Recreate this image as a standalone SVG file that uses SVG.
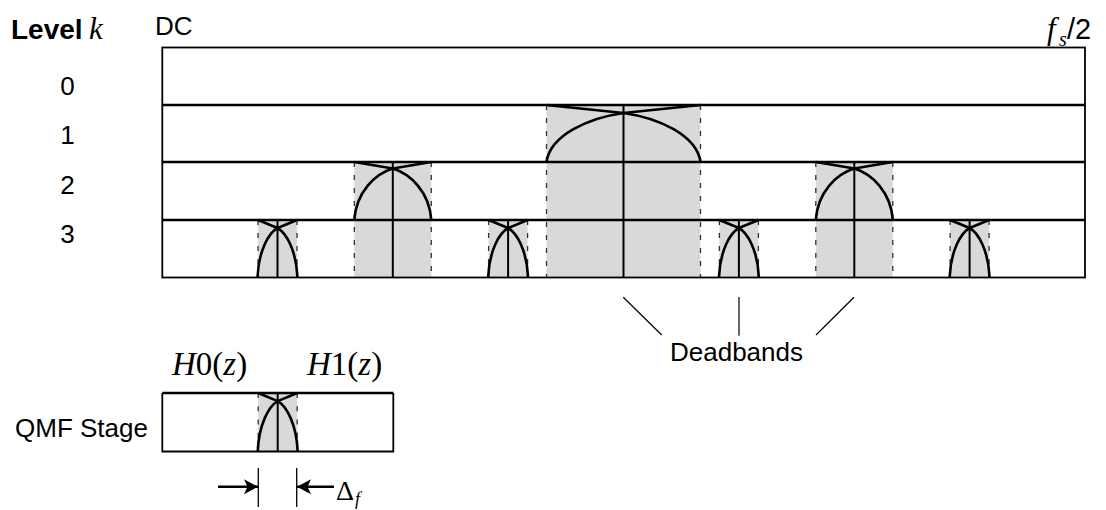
<svg xmlns="http://www.w3.org/2000/svg" xmlns:xlink="http://www.w3.org/1999/xlink" width="1106" height="510" viewBox="0 0 1106 510">
  <style>
    .sans { font-family: "Liberation Sans", Arial, sans-serif; fill: #000; }
    .serif { font-family: "Liberation Serif", "Times New Roman", serif; fill: #000; }
    .it { font-style: italic; }
    .band { fill: #d9d9d9; stroke: none; }
    .edge { stroke: #333; stroke-width: 1.3; stroke-dasharray: 5 8; fill: none; }
    .mid { stroke: #000; stroke-width: 2; fill: none; }
    .resp { stroke: #000; stroke-width: 2.6; fill: none; stroke-linejoin: round; }
    .frame { stroke: #000; stroke-width: 1.8; fill: none; }
    .level { stroke: #000; stroke-width: 2.7; fill: none; }
    .lead { stroke: #000; stroke-width: 1.2; fill: none; }
    .dim { stroke: #000; stroke-width: 2.6; fill: none; }
    .tick { stroke: #000; stroke-width: 1.3; fill: none; }
  </style>
  <defs>
    <!-- deadband between two half-band responses; origin = centre of the split on its level line -->
    <g id="db-l1">
      <rect class="band" x="-77" y="0" width="154" height="172.5"/>
      <path class="edge" d="M-77 0 V172.5 M77 0 V172.5"/>
      <path class="mid" d="M0 0 V172.5"/>
      <path class="resp" d="M-77 57 C-73.1 30 -34.7 12.9 0 8 L77 0"/>
      <path class="resp" d="M77 57 C73.1 30 34.7 12.9 0 8 L-77 0"/>
    </g>
    <g id="db-l2">
      <rect class="band" x="-38.5" y="0" width="77" height="115.5"/>
      <path class="edge" d="M-38.5 0 V115.5 M38.5 0 V115.5"/>
      <path class="mid" d="M0 0 V115.5"/>
      <path class="resp" d="M-38.5 58 C-36.6 29.7 -17.3 11.7 0 6.5 L38.5 0"/>
      <path class="resp" d="M38.5 58 C36.6 29.7 17.3 11.7 0 6.5 L-38.5 0"/>
    </g>
    <g id="db-l3">
      <rect class="band" x="-19.5" y="0" width="39" height="57.5"/>
      <path class="edge" d="M-19.5 0 V57.5 M19.5 0 V57.5"/>
      <path class="mid" d="M0 0 V57.5"/>
      <path class="resp" d="M-20 57.5 C-18.8 30.3 -8.8 13 0 8 L19.5 0"/>
      <path class="resp" d="M20 57.5 C18.8 30.3 8.8 13 0 8 L-19.5 0"/>
    </g>
    <marker id="head" markerUnits="userSpaceOnUse" markerWidth="16" markerHeight="18" refX="14" refY="9" orient="auto">
      <path d="M0 1.5 L14 9 L0 16.5 L3.5 9 Z" fill="#000"/>
    </marker>
  </defs>

  <!-- row labels -->
  <g id="labels">
    <text class="sans" x="11" y="39" font-size="28" font-weight="bold">Level</text>
    <text class="serif it" x="89" y="39" font-size="31">k</text>
    <text class="sans" x="155" y="35" font-size="26">DC</text>
    <text class="serif it" x="1047" y="39" font-size="31">f</text>
    <text class="serif it" x="1059" y="46" font-size="20">s</text>
    <text class="sans" x="1067" y="39" font-size="29">/2</text>
    <g class="sans" font-size="26" text-anchor="middle">
      <text x="67.5" y="95">0</text>
      <text x="67.5" y="144">1</text>
      <text x="67.5" y="194">2</text>
      <text x="67.5" y="243">3</text>
    </g>
  </g>

  <!-- level 1 split -->
  <g id="node-l1">
    <use xlink:href="#db-l1" transform="translate(623.5 105)"/>
  </g>
  <!-- level 2 splits -->
  <g id="node-l2-a">
    <use xlink:href="#db-l2" transform="translate(392.8 162)"/>
  </g>
  <g id="node-l2-b">
    <use xlink:href="#db-l2" transform="translate(854.3 162)"/>
  </g>
  <!-- level 3 splits -->
  <g id="node-l3-a">
    <use xlink:href="#db-l3" transform="translate(277.5 220)"/>
  </g>
  <g id="node-l3-b">
    <use xlink:href="#db-l3" transform="translate(508.1 220)"/>
  </g>
  <g id="node-l3-c">
    <use xlink:href="#db-l3" transform="translate(738.9 220)"/>
  </g>
  <g id="node-l3-d">
    <use xlink:href="#db-l3" transform="translate(969.6 220)"/>
  </g>

  <!-- frequency axis frame and level boundaries -->
  <g id="frame">
    <rect class="frame" x="162.3" y="47.5" width="922.7" height="230"/>
    <path class="level" d="M162.3 105 H1085 M162.3 162 H1085 M162.3 220 H1085"/>
  </g>

  <!-- single QMF stage -->
  <g id="qmf-stage">
    <use xlink:href="#db-l3" transform="translate(277.7 393) scale(1 1.017)"/>
    <path class="frame" d="M162.3 393 V451.5 H393.3 V393"/>
    <path class="level" d="M162.3 393 H393.3"/>
    <text class="sans" x="15" y="437" font-size="26">QMF Stage</text>
    <text class="serif" x="172" y="375" font-size="33"><tspan class="it">H</tspan>0(<tspan class="it">z</tspan>)</text>
    <text class="serif" x="307" y="375" font-size="33"><tspan class="it">H</tspan>1(<tspan class="it">z</tspan>)</text>
  </g>

  <g id="deadbands-label">
    <text class="sans" x="670" y="361" font-size="26">Deadbands</text>
  </g>

  <!-- leaders and dimension arrows -->
  <g id="connectors">
    <path class="lead" d="M623.3 297.3 L661.7 335"/>
    <path class="lead" d="M739 297 V335.7"/>
    <path class="lead" d="M854 297.3 L816 335"/>
    <path class="tick" d="M258.3 468 V507 M296.7 468 V507"/>
    <path class="dim" d="M218 486.7 H258" marker-end="url(#head)"/>
    <path class="dim" d="M334 486.7 H297" marker-end="url(#head)"/>
  </g>
  <g id="delta-label">
    <text class="serif" x="336" y="500" font-size="28">Δ</text>
    <text class="serif it" x="355" y="505" font-size="18">f</text>
  </g>
</svg>
